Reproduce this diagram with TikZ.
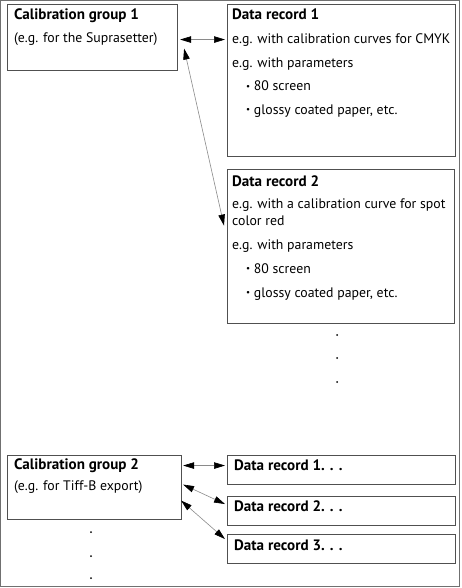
\documentclass[tikz,border=0pt]{standalone}
\usepackage{fontspec}
\setmainfont{PT Sans}
\usetikzlibrary{arrows.meta}
\definecolor{boxgray}{HTML}{505050}
\definecolor{linegray}{HTML}{8A8A8A}
\definecolor{framegray}{HTML}{707070}
\newcommand\smbul{{\fontsize{9}{9}\selectfont\raisebox{0.35ex}{•}}}
\tikzset{
  box/.style={draw=boxgray, line width=1.1pt, anchor=north west, inner sep=0pt, minimum width=#1},
  txt/.style={anchor=base west, inner sep=0pt, font=\fontsize{13.8}{16}\selectfont},
  ttl/.style={anchor=base west, inner sep=0pt, font=\fontsize{15.1}{16}\selectfont\bfseries},
  link/.style={draw=linegray, line width=0.6pt,
    {Triangle[length=11pt,width=6.5pt,color=black]}-{Triangle[length=11pt,width=6.5pt,color=black]}},
  vdot/.style={circle, fill=black, inner sep=0pt, minimum size=2pt},
}
\begin{document}
\begin{tikzpicture}[x=1pt,y=-1pt]
\useasboundingbox (0,0) rectangle (461,588);
\draw[framegray, line width=1pt] (0.5,0.5) rectangle (459.5,586.5);
% boxes
\node[box=170pt, minimum height=66pt] (g1) at (7,4) {};
\node[box=228pt, minimum height=152pt] (d1) at (227,4) {};
\node[box=227pt, minimum height=154pt] (d2) at (227,169) {};
\node[box=174pt, minimum height=64pt] (g2) at (7,455) {};
\node[box=228pt, minimum height=29pt] (e1) at (227,455) {};
\node[box=228pt, minimum height=29pt] (e2) at (227,496) {};
\node[box=228pt, minimum height=29pt] (e3) at (227,534) {};
% texts group 1
\node[ttl] (g1t) at (14,19.5) {Calibration group 1};
\node[txt] (g1a) at (14,42.5) {(e.g. for the Suprasetter)};
% data record 1
\node[ttl] (d1t) at (232,20) {Data record 1};
\node[txt] (d1a) at (232,44) {e.g. with calibration curves for CMYK};
\node[txt] (d1b) at (232,67.5) {e.g. with parameters};
\node[txt] (d1c) at (246,91) {\smbul\ 80 screen};
\node[txt] (d1d) at (246,114.5) {\smbul\ glossy coated paper, etc.};
% data record 2
\node[ttl] (d2t) at (232,186) {Data record 2};
\node[txt] (d2a) at (232,208) {e.g. with a calibration curve for spot};
\node[txt] (d2b) at (232,225.5) {color red};
\node[txt] (d2c) at (232,249) {e.g. with parameters};
\node[txt] (d2d) at (246,273) {\smbul\ 80 screen};
\node[txt] (d2e) at (246,297) {\smbul\ glossy coated paper, etc.};
% group 2
\node[ttl] (g2t) at (14,469.5) {Calibration group 2};
\node[txt] (g2a) at (14,490.5) {(e.g. for Tiff-B export)};
\node[ttl] (e1t) at (234,470.5) {Data record 1. . .};
\node[ttl] (e2t) at (234,511.5) {Data record 2. . .};
\node[ttl] (e3t) at (234,550) {Data record 3. . .};
% dots
\node[vdot] (p1) at (337,335) {};
\node[vdot] (p2) at (337,358) {};
\node[vdot] (p3) at (337,382) {};
\node[vdot] (q1) at (91,532) {};
\node[vdot] (q2) at (91,556) {};
\node[vdot] (q3) at (91,578) {};
% connectors
\draw[link] ([xshift=2pt,yshift=-2pt]g1.east) -- ([xshift=-2pt,yshift=-2pt]g1.east -| d1.west);
\draw[link] ([xshift=6pt,yshift=-11pt]g1.east) -- ([xshift=-3pt,yshift=21pt]d2.west);
\draw[link] ([xshift=1pt,yshift=22pt]g2.east) -- ([xshift=-2pt,yshift=22pt]g2.east -| e1.west);
\draw[link] ([xshift=1pt,yshift=3pt]g2.east) -- ([xshift=-2pt,yshift=7pt]e2.west);
\draw[link] ([xshift=-1pt,yshift=-13pt]g2.east) -- ([xshift=-2pt,yshift=10pt]e3.west);
\end{tikzpicture}
\end{document}
